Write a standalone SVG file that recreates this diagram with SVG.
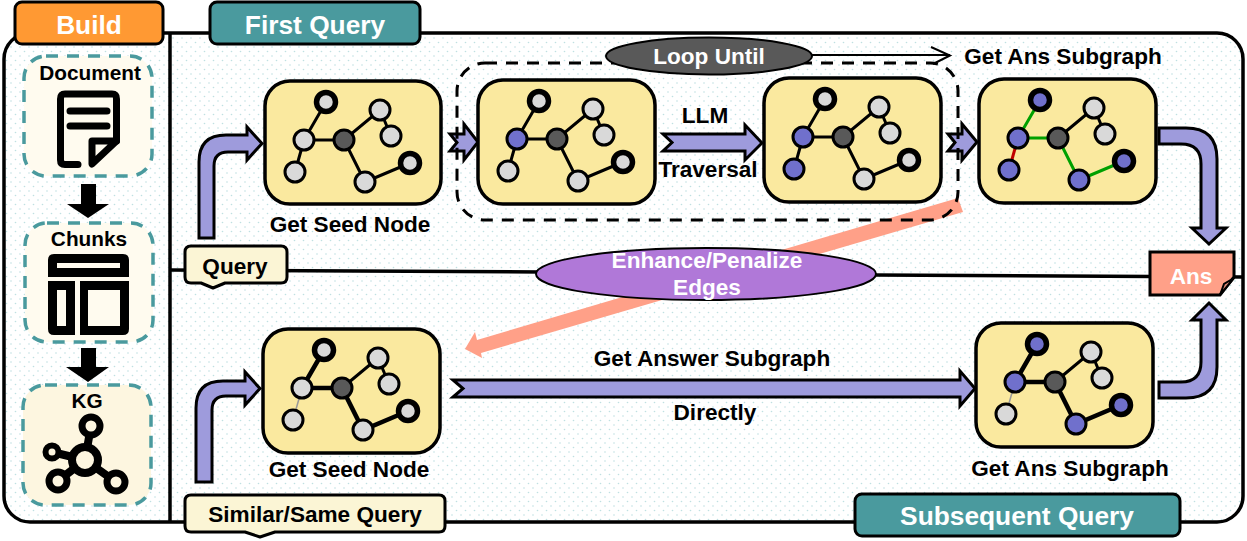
<svg xmlns="http://www.w3.org/2000/svg" width="1247" height="541" viewBox="0 0 1247 541">
<style>
text{font-family:"Liberation Sans",Arial,sans-serif;font-weight:bold;text-anchor:middle;fill:#000}
.lb{font-size:22.600px}
.sm{font-size:20.800px}
.w{fill:#fff}
.hd{font-size:26.300px;fill:#fff}
.hdr{stroke:#000;stroke-width:3}
.dash{stroke:#4A9A9E;stroke-width:3.5;stroke-dasharray:12 9}
.arr{fill:#9E9BDC;stroke:#000;stroke-width:3;stroke-linejoin:miter}
.box{fill:#FAE99F;stroke:#000;stroke-width:3.5}
.n{fill:#D9D9D9;stroke:#000;stroke-width:3}
.s{fill:#D9D9D9;stroke:#000;stroke-width:5.500}
.b{fill:#7070CC}
.c{fill:#595959;stroke:#000;stroke-width:3}
.e{stroke:#000;stroke-width:3;fill:none}
.t{stroke-width:4.5}
.thin{stroke:#999;stroke-width:1.5}
.gr{stroke:#00A000}
.rd{stroke:#C00000}
.ic{fill:none;stroke:#000;stroke-width:7;stroke-linecap:round;stroke-linejoin:round}
.tag{fill:#FBF5D5;stroke:#000;stroke-width:3;stroke-linejoin:round}
</style>
<defs>
<pattern id="dots" width="9" height="9" patternUnits="userSpaceOnUse">
<rect width="9" height="9" fill="#fff"/>
<circle cx="2" cy="2" r="0.8" fill="#BFE0E2"/>
<circle cx="6.5" cy="6.5" r="0.8" fill="#BFE0E2"/>
</pattern>
</defs>

<g id="frame">
<rect x="4" y="33" width="1239" height="489" rx="26" fill="url(#dots)" stroke="#000" stroke-width="3.5"/>
<line x1="170" y1="33" x2="170" y2="522" stroke="#000" stroke-width="3.5"/>
</g>

<g id="connectors">
<line x1="170" y1="270" x2="540" y2="272" stroke="#000" stroke-width="3.5"/>
<line x1="875" y1="275" x2="1243" y2="277" stroke="#000" stroke-width="3.5"/>
<polygon points="958,198 963,212 481,353 482,358 465,349 475,332 477,340" fill="#FFA088"/>
<path class="arr" d="M199,238V162Q199,135 226,135H247V127L262,143.500 247,160V152H228Q214,152 214,166V238Z"/>
<path class="arr" d="M196,482V408Q196,381 223,381H245V372L260,388.500 245,405V396H226Q212,396 212,410V482Z"/>
<path class="arr" d="M450,134H464V124L478,142 464,160V151H450L457,142.500Z"/>
<path class="arr" d="M663,134H745V125L762,143 745,160V151H663L672,142.500Z"/>
<path class="arr" d="M948,134H962V124L977,142 962,160V151H948L955,142.500Z"/>
<path class="arr" d="M453,380H960V371L975,388.500 960,406V397H453L463,388.500Z"/>
<path class="arr" d="M1159,128H1186Q1217,128 1217,159V228H1226L1209,244 1192,228H1201V164Q1201,144 1181,144H1159Z"/>
<path class="arr" d="M1159,398H1186Q1217,398 1217,367V320H1226L1209,303 1192,320H1201V362Q1201,382 1181,382H1159Z"/>
<path d="M81,184H96V204H109L88,218 67,204H81Z" fill="#000"/>
<path d="M81,348H96V367H109L88,382 66,367H81Z" fill="#000"/>
<path d="M812,55H950M931,47L950,55.500 933,64" fill="none" stroke="#000" stroke-width="2"/>
<rect x="457" y="63" width="501" height="157" rx="28" fill="none" stroke="#000" stroke-width="3" stroke-dasharray="12 9"/>
</g>

<g id="build-label"><rect class="hdr" x="15" y="2" width="148" height="42" rx="7" fill="#FF9933"/><text class="hd" x="89" y="34">Build</text></g>
<g id="first-query-label"><rect class="hdr" x="210" y="2" width="210" height="42" rx="7" fill="#4A9A9E"/><text class="hd" x="315" y="34">First Query</text></g>
<g id="subsequent-query-label"><rect class="hdr" x="855" y="494" width="325" height="42" rx="7" fill="#4A9A9E"/><text class="hd" x="1017" y="525">Subsequent Query</text></g>

<g id="document">
<rect class="dash" x="24" y="56" width="128" height="120" rx="22" fill="#FFFBEF"/>
<text class="sm" x="90" y="80">Document</text>
<path class="ic" d="M78,164.500H65Q60.500,164.500 60.500,160V99Q60.500,94 65,94H112Q116.500,94 116.500,99V141"/>
<path class="ic" d="M70,111H107M70,126H107"/>
<path class="ic" d="M92,164V141H116.500Z" style="fill:#FFFBEF"/>
</g>
<g id="chunks">
<rect class="dash" x="25" y="223" width="128" height="119" rx="22" fill="#FFFBEF"/>
<text class="sm" x="89" y="246">Chunks</text>
<path fill-rule="evenodd" d="M54,254H123Q129,254 129,260V277H48V260Q48,254 54,254ZM57,263V268H120V263Z"/>
<path fill-rule="evenodd" d="M48,281H75V335H54Q48,335 48,329ZM57,290V326H66V290Z"/>
<path fill-rule="evenodd" d="M80,281H129V329Q129,335 123,335H80ZM88,290V326H120V290Z"/>
</g>
<g id="kg">
<rect class="dash" x="23" y="385" width="128" height="120" rx="22" fill="#FDF6E0"/>
<text class="sm" x="87" y="408">KG</text>
<path d="M85,460L91,426M85,460L52,452M85,460L58,481M85,460L116,482" stroke="#000" stroke-width="8" fill="none"/>
<circle cx="85" cy="460" r="13" fill="#FDF6E0" stroke="#000" stroke-width="8"/>
<circle cx="91" cy="426" r="9" fill="#FDF6E0" stroke="#000" stroke-width="7"/>
<circle cx="52" cy="452" r="6.500" fill="#FDF6E0" stroke="#000" stroke-width="6"/>
<circle cx="58" cy="481" r="9" fill="#FDF6E0" stroke="#000" stroke-width="7"/>
<circle cx="116" cy="482" r="9" fill="#FDF6E0" stroke="#000" stroke-width="7"/>
</g>

<g id="query">
<path class="tag" d="M191,246H281Q287,246 287,252V277Q287,283 281,283H225L213,288 201,283H191Q185,283 185,277V252Q185,246 191,246Z"/>
<text class="lb" x="235" y="274">Query</text>
</g>
<g id="similar-query">
<path class="tag" d="M191,495H439Q445,495 445,501V526Q445,532 439,532H275L260,537 245,532H191Q185,532 185,526V501Q185,495 191,495Z"/>
<text class="lb" x="315" y="522">Similar/Same Query</text>
</g>

<g id="seed-1" transform="translate(265,81)">
<rect class="box" width="176" height="123" rx="25"/>
<path class="e" d="M61,21L39,59L79,59L115,29L126,55M79,59L100,101L145,82M39,59L30,91"/>
<circle class="s" cx="61" cy="21" r="9.500"/><circle class="n" cx="39" cy="59" r="10"/><circle class="c" cx="79" cy="59" r="10"/><circle class="n" cx="115" cy="29" r="10"/><circle class="n" cx="126" cy="55" r="10"/><circle class="s" cx="145" cy="82" r="9.500"/><circle class="n" cx="100" cy="101" r="10"/><circle class="n" cx="30" cy="91" r="10"/>
</g>
<g id="loop-1" transform="translate(478,80)">
<rect class="box" width="177" height="124" rx="25"/>
<path class="e" d="M61,21L39,59L79,59L115,29L126,55M79,59L100,101L145,82M39,59L30,91"/>
<circle class="s" cx="61" cy="21" r="9.500"/><circle class="n b" cx="39" cy="59" r="10"/><circle class="c" cx="79" cy="59" r="10"/><circle class="n" cx="115" cy="29" r="10"/><circle class="n" cx="126" cy="55" r="10"/><circle class="s" cx="145" cy="82" r="9.500"/><circle class="n" cx="100" cy="101" r="10"/><circle class="n" cx="30" cy="91" r="10"/>
</g>
<g id="loop-2" transform="translate(764,78)">
<rect class="box" width="177" height="124" rx="25"/>
<path class="e" d="M61,21L39,59L79,59L115,29L126,55M79,59L100,101L145,82M39,59L30,91"/>
<circle class="s" cx="61" cy="21" r="9.500"/><circle class="n b" cx="39" cy="59" r="10"/><circle class="c" cx="79" cy="59" r="10"/><circle class="n" cx="115" cy="29" r="10"/><circle class="n" cx="126" cy="55" r="10"/><circle class="s" cx="145" cy="82" r="9.500"/><circle class="n" cx="100" cy="101" r="10"/><circle class="n b" cx="30" cy="91" r="10"/>
</g>
<g id="answer-1" transform="translate(979,79)">
<rect class="box" width="177" height="124" rx="25"/>
<path class="e" d="M79,59L115,29L126,55"/>
<path class="e gr" d="M61,21L39,59L79,59L100,101L145,82"/><path class="e rd" d="M39,59L30,91"/>
<circle class="s b" cx="61" cy="21" r="9.500"/><circle class="n b" cx="39" cy="59" r="10"/><circle class="c" cx="79" cy="59" r="10"/><circle class="n" cx="115" cy="29" r="10"/><circle class="n" cx="126" cy="55" r="10"/><circle class="s b" cx="145" cy="82" r="9.500"/><circle class="n b" cx="100" cy="101" r="10"/><circle class="n b" cx="30" cy="91" r="10"/>
</g>
<g id="seed-2" transform="translate(263,329)">
<rect class="box" width="177" height="124" rx="25"/>
<path class="e t" d="M61,21L39,59L79,59L100,101L145,82"/><path class="e" d="M79,59L115,29L126,55"/><path class="e thin" d="M39,59L30,91"/>
<circle class="s" cx="61" cy="21" r="9.500"/><circle class="n" cx="39" cy="59" r="10"/><circle class="c" cx="79" cy="59" r="10"/><circle class="n" cx="115" cy="29" r="10"/><circle class="n" cx="126" cy="55" r="10"/><circle class="s" cx="145" cy="82" r="9.500"/><circle class="n" cx="100" cy="101" r="10"/><circle class="n" cx="30" cy="91" r="10"/>
</g>
<g id="answer-2" transform="translate(976,323)">
<rect class="box" width="177" height="124" rx="25"/>
<path class="e t" d="M61,21L39,59L79,59L100,101L145,82"/><path class="e" d="M79,59L115,29L126,55"/><path class="e thin" d="M39,59L30,91"/>
<circle class="s b" cx="61" cy="21" r="9.500"/><circle class="n b" cx="39" cy="59" r="10"/><circle class="c" cx="79" cy="59" r="10"/><circle class="n" cx="115" cy="29" r="10"/><circle class="n" cx="126" cy="55" r="10"/><circle class="s b" cx="145" cy="82" r="9.500"/><circle class="n b" cx="100" cy="101" r="10"/><circle class="n" cx="30" cy="91" r="10"/>
</g>

<g id="loop-until">
<ellipse cx="709" cy="56" rx="103" ry="18.500" fill="#595959" stroke="#000" stroke-width="2"/>
<text class="lb w" x="709" y="64">Loop Until</text>
</g>
<g id="enhance-penalize">
<ellipse cx="706" cy="274" rx="170" ry="26" fill="#B078D8" stroke="#000" stroke-width="2"/>
<text class="lb w" x="707" y="268">Enhance/Penalize</text>
<text class="lb w" x="707" y="295">Edges</text>
</g>
<g id="ans">
<path d="M1150,252H1234V277L1220,295H1150Z" fill="#FFA088" stroke="#000" stroke-width="3"/>
<path d="M1220,295L1224,284 1234,278Z" fill="#E08C78" stroke="#000" stroke-width="2"/>
<text class="lb w" x="1191" y="284">Ans</text>
</g>

<g id="labels">
<text class="lb" x="350" y="232">Get Seed Node</text>
<text class="lb" x="349" y="477">Get Seed Node</text>
<text class="lb" x="1063" y="64">Get Ans Subgraph</text>
<text class="lb" x="1070" y="476">Get Ans Subgraph</text>
<text class="lb" x="712" y="366">Get Answer Subgraph</text>
<text class="lb" x="715" y="420">Directly</text>
<text class="lb" x="705" y="123">LLM</text>
<text class="lb" x="708" y="177">Traversal</text>
</g>
</svg>
